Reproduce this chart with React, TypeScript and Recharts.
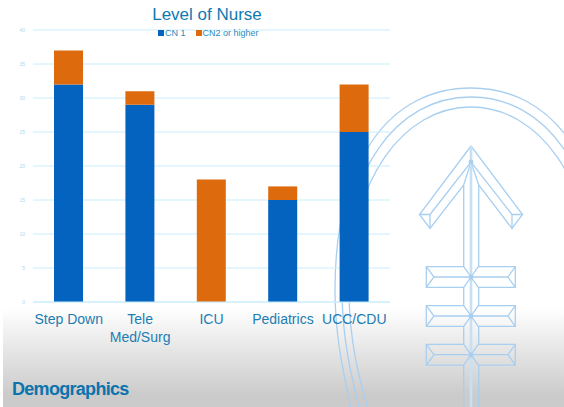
import { BarChart, Bar, XAxis, YAxis, CartesianGrid, Legend, Text } from 'recharts';

const units = ['Step Down', 'Tele Med/Surg', 'ICU', 'Pediatrics', 'UCC/CDU'];
const cn1 = [32, 29, 0, 15, 25];
const cn2 = [5, 2, 18, 2, 7];
const yTicks = [0, 5, 10, 15, 20, 25, 30, 35, 40];

const data = units.map((unit, i) => ({ unit, cn1: cn1[i], cn2: cn2[i] }));

const FONT = '"Liberation Sans", Arial, sans-serif';
const ART = '#a9cff0';

// one ring of the emblem: left edge, top edge, bottom-left tail
const ring = (left: number, top: number, tail: number) => {
  const right = 942 - left;
  return `M${tail} 420 C${left + 12} 385 ${left} 345 ${left} 290 C${left} ${top + 72} ${left + 55} ${top} 471 ${top} C${right - 55} ${top} ${right} ${top + 72} ${right} 290`;
};

// the slide's background emblem, sits behind the chart
function Emblem() {
  const crossbars = [277, 316, 354.7];
  return (
    <svg width={564} height={407} style={{ position: 'absolute', left: 0, top: 0 }}>
      <defs>
        <linearGradient id="floor" x1="0" y1="0" x2="0" y2="1">
          <stop offset="0" stopColor="#ffffff" />
          <stop offset="0.88" stopColor="#cbcbcb" />
          <stop offset="1" stopColor="#cbcbcb" />
        </linearGradient>
      </defs>
      <rect x={3} y={308} width={561} height={99} fill="url(#floor)" />
      <g fill="none" stroke={ART} strokeWidth={1.3}>
        <path d={ring(335, 88, 353)} />
        <path d={ring(342, 97, 362)} />
        <path d={ring(349, 107, 371)} />
        <path d="M471 146 L419.5 214.5 L430 228.5 L463.7 185 L471 162 L478.7 185 L512 228.5 L522.5 214.5 Z" />
        <path d="M419.5 214.5 L430 214.5 L471 162 L512 214.5 L522.5 214.5" />
        <path d="M430 214.5 L430 228.5 M512 214.5 L512 228.5" />
        <path d="M471 146 L471 407" strokeWidth={2.6} stroke="#c6e0f6" />
        <path d="M463.7 185 L463.7 266.7 M478.7 185 L478.7 266.7" />
        <path d="M463.7 287.7 L463.7 305.7 M478.7 287.7 L478.7 305.7 M463.7 326.3 L463.7 344.3 M478.7 326.3 L478.7 344.3 M463.7 365 L463.7 407 M478.7 365 L478.7 407" />
        <circle cx={471} cy={162} r={1.8} fill={ART} />
        {crossbars.map((y) => (
          <g key={y} transform={`translate(471 ${y})`}>
            <path d="M-7.3 -10.4 L-44.7 -10.4 L-44.7 10.4 L-7.3 10.4 L0 0 Z" />
            <path d="M7.3 -10.4 L44.3 -10.4 L44.3 10.4 L7.3 10.4 L0 0 Z" />
            <path d="M-44.7 -10.4 L-37 0 L-44.7 10.4 M44.3 -10.4 L37 0 L44.3 10.4 M-37 0 L37 0" />
            <circle r={1.8} fill={ART} />
          </g>
        ))}
      </g>
    </svg>
  );
}

function UnitTick({ x, y, payload }: any) {
  return (
    <Text
      x={x}
      y={y + 4}
      width={72}
      lineHeight={18}
      textAnchor="middle"
      verticalAnchor="start"
      fontSize={14}
      fontFamily={FONT}
      fill="#1c7db3"
    >
      {payload.value}
    </Text>
  );
}

function NurseLegend({ payload }: any) {
  return (
    <div style={{ display: 'flex', fontSize: 9, lineHeight: '10px', color: '#2a8cc0' }}>
      {(payload || []).map((item: any) => (
        <span key={item.value} style={{ display: 'flex', alignItems: 'center', marginRight: 10 }}>
          <span style={{ width: 6, height: 6, marginRight: 1, background: item.color }} />
          {item.value}
        </span>
      ))}
    </div>
  );
}

export default function App() {
  return (
    <div style={{ position: 'absolute', left: 0, top: 0, width: 564, height: 407, overflow: 'hidden', background: '#fff', fontFamily: FONT }}>
      <Emblem />
      <div style={{ position: 'absolute', left: 107, width: 200, top: 5, textAlign: 'center', fontSize: 17, color: '#1079b2' }}>
        Level of Nurse
      </div>
      <div style={{ position: 'absolute', left: 12, top: 379, fontSize: 18, fontWeight: 'bold', letterSpacing: -0.7, color: '#0b73ad' }}>
        Demographics
      </div>
      <BarChart
        width={564}
        height={407}
        data={data}
        margin={{ top: 20, right: 174, left: 13, bottom: 55 }}
        barSize={29}
        style={{ position: 'absolute', left: 0, top: 0 }}
      >
        <CartesianGrid stroke="#c9eefc" vertical={false} />
        <XAxis
          dataKey="unit"
          interval={0}
          height={50}
          tick={<UnitTick />}
          axisLine={{ stroke: '#c9eefc' }}
          tickLine={false}
        />
        <YAxis
          width={20}
          domain={[0, 40]}
          ticks={yTicks}
          tick={{ fontSize: 5, fill: '#a5dcf5', fontFamily: FONT }}
          axisLine={false}
          tickLine={false}
        />
        <Legend
          verticalAlign="top"
          content={<NurseLegend />}
          wrapperStyle={{ top: 28, left: 158, width: 130 }}
        />
        <Bar dataKey="cn1" name="CN 1" stackId="a" fill="#0563c0" isAnimationActive={false} />
        <Bar dataKey="cn2" name="CN2 or higher" stackId="a" fill="#dd6b0e" isAnimationActive={false} />
      </BarChart>
    </div>
  );
}
